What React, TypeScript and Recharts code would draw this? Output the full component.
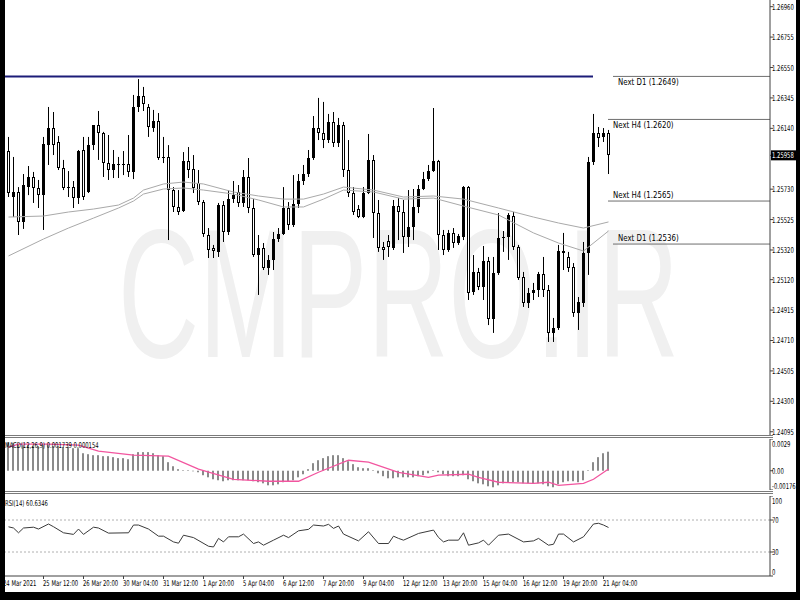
import { Bar, ComposedChart, Line, ReferenceLine, XAxis, YAxis } from "recharts"

const FONT = "DejaVu Sans, Verdana, sans-serif"

// H4 candles, 24 Mar 08:00 .. 21 Apr 08:00
const opens = [
  1.25987, 1.25677, 1.25711, 1.25509, 1.25744, 1.25812, 1.25738, 1.2569, 1.26027, 1.26142,
  1.26048, 1.25872, 1.25738, 1.25744, 1.2567, 1.25994, 1.25711, 1.26027, 1.26162, 1.26109,
  1.25906, 1.25859, 1.25893, 1.25893, 1.259, 1.25846, 1.26284, 1.26358, 1.26284, 1.26142,
  1.26189, 1.2594, 1.25947, 1.25724, 1.2561, 1.25583, 1.2592, 1.25866, 1.25771, 1.25643,
  1.25421, 1.25334, 1.25307, 1.25623, 1.25441, 1.25663, 1.25711, 1.25637, 1.25812, 1.25603,
  1.25286, 1.25334, 1.25199, 1.25253, 1.25394, 1.25428, 1.25603, 1.25489, 1.2563, 1.25785,
  1.25832, 1.2594, 1.26142, 1.26109, 1.26061, 1.26183, 1.26041, 1.26162, 1.25859, 1.25704,
  1.25596, 1.25542, 1.25704, 1.25927, 1.25569, 1.2534, 1.25381, 1.25334, 1.25616, 1.25576,
  1.25408, 1.25475, 1.2561, 1.25731, 1.25798, 1.25852, 1.2592, 1.25421, 1.2532, 1.25435,
  1.25367, 1.25408, 1.25744, 1.25037, 1.25172, 1.25071, 1.25246, 1.24855, 1.25165, 1.25401,
  1.25408, 1.25549, 1.2534, 1.25138, 1.24962, 1.2503, 1.2505, 1.25158, 1.2505, 1.24761,
  1.24794, 1.25313, 1.25273, 1.25205, 1.24895, 1.24962, 1.253, 1.25913, 1.26109, 1.26082,
  1.26109,
]
const highs = [
  1.26082, 1.25947, 1.25744, 1.25832, 1.25886, 1.25846, 1.25792, 1.26082, 1.26284, 1.2625,
  1.26088, 1.25927, 1.25852, 1.25785, 1.25994, 1.26082, 1.26082, 1.26162, 1.26257, 1.26116,
  1.26095, 1.25994, 1.25947, 1.25987, 1.26095, 1.26365, 1.26472, 1.26419, 1.26304, 1.26264,
  1.26243, 1.26082, 1.26027, 1.25744, 1.25724, 1.2598, 1.26014, 1.2596, 1.25859, 1.25657,
  1.25468, 1.25354, 1.25637, 1.2565, 1.25724, 1.25785, 1.25758, 1.25859, 1.2594, 1.25663,
  1.25421, 1.25367, 1.25286, 1.25441, 1.25468, 1.25744, 1.25643, 1.25825, 1.25832, 1.25893,
  1.25994, 1.26223, 1.26345, 1.26318, 1.26237, 1.2625, 1.2621, 1.26183, 1.26061, 1.25744,
  1.25623, 1.25744, 1.26102, 1.2596, 1.25657, 1.25374, 1.25421, 1.25657, 1.2567, 1.25657,
  1.25724, 1.25731, 1.25758, 1.25846, 1.25893, 1.26277, 1.25927, 1.25455, 1.25455, 1.25468,
  1.25428, 1.25751, 1.25751, 1.25286, 1.25199, 1.25347, 1.25273, 1.25273, 1.25569, 1.25448,
  1.25569, 1.25576, 1.25354, 1.25172, 1.25064, 1.25098, 1.25172, 1.25273, 1.25084, 1.24862,
  1.25354, 1.25435, 1.25307, 1.25232, 1.25003, 1.25374, 1.25947, 1.26237, 1.26149, 1.26142,
  1.26129,
]
const lows = [
  1.25677, 1.25542, 1.25421, 1.25462, 1.2569, 1.25637, 1.25603, 1.25455, 1.25893, 1.2596,
  1.25859, 1.25724, 1.25677, 1.25603, 1.2563, 1.25657, 1.25704, 1.25994, 1.25927, 1.25812,
  1.25792, 1.25805, 1.25805, 1.25825, 1.25812, 1.25798, 1.2625, 1.26257, 1.26082, 1.26116,
  1.25927, 1.25906, 1.25387, 1.25576, 1.25556, 1.25576, 1.25805, 1.25704, 1.25623, 1.25408,
  1.25266, 1.25266, 1.25273, 1.25374, 1.25421, 1.25637, 1.2561, 1.2561, 1.25569, 1.25273,
  1.25017, 1.25185, 1.25152, 1.25185, 1.25374, 1.25421, 1.25455, 1.25475, 1.25603, 1.25758,
  1.25812, 1.25927, 1.26061, 1.26007, 1.26041, 1.26014, 1.26014, 1.25812, 1.25677, 1.25556,
  1.25535, 1.25535, 1.25697, 1.25401, 1.25307, 1.25253, 1.25273, 1.2532, 1.25387, 1.253,
  1.2534, 1.25387, 1.25569, 1.25724, 1.25785, 1.25846, 1.2532, 1.25286, 1.25307, 1.25334,
  1.25354, 1.25387, 1.24983, 1.25017, 1.2505, 1.24983, 1.24814, 1.24761, 1.25152, 1.25307,
  1.25253, 1.2532, 1.25118, 1.24936, 1.24929, 1.24983, 1.25003, 1.25003, 1.247, 1.247,
  1.24781, 1.25185, 1.25172, 1.24869, 1.24781, 1.24936, 1.25152, 1.25893, 1.26014, 1.26048,
  1.25832,
]
const closes = [
  1.25704, 1.25711, 1.25509, 1.25758, 1.25812, 1.25738, 1.2569, 1.26034, 1.26142, 1.26027,
  1.25872, 1.25738, 1.25744, 1.2567, 1.25987, 1.25677, 1.26027, 1.26162, 1.26109, 1.25906,
  1.25859, 1.259, 1.259, 1.259, 1.25846, 1.26284, 1.26358, 1.26304, 1.26149, 1.26189,
  1.2594, 1.25947, 1.25724, 1.2561, 1.25576, 1.2592, 1.25859, 1.25738, 1.25643, 1.25428,
  1.2532, 1.25313, 1.25623, 1.25441, 1.25663, 1.2569, 1.25637, 1.25812, 1.25603, 1.25286,
  1.25334, 1.25199, 1.25253, 1.25394, 1.25428, 1.25603, 1.25489, 1.2563, 1.25785, 1.25832,
  1.2594, 1.26142, 1.26109, 1.26061, 1.26183, 1.26041, 1.26162, 1.25859, 1.25704, 1.25576,
  1.25542, 1.25704, 1.25927, 1.25569, 1.25334, 1.2532, 1.2534, 1.25616, 1.25576, 1.25408,
  1.25475, 1.2561, 1.25731, 1.25798, 1.25852, 1.2592, 1.25421, 1.2532, 1.25435, 1.25367,
  1.25414, 1.25744, 1.2503, 1.25172, 1.25071, 1.25246, 1.24855, 1.25165, 1.25401, 1.25408,
  1.25556, 1.2534, 1.25131, 1.24962, 1.2503, 1.2505, 1.25158, 1.2505, 1.24761, 1.24794,
  1.25313, 1.253, 1.25199, 1.24895, 1.24969, 1.253, 1.25913, 1.26109, 1.26075, 1.26109,
  1.25958,
]

// moving averages, sampled as [bar, price]
const maUpper: [number, number][] = [
  [0, 1.25542], [7, 1.25549], [12, 1.25576], [17, 1.25596], [22, 1.25623], [25, 1.2567],
  [27, 1.25724], [31, 1.25765], [35, 1.25778], [39, 1.25765], [45, 1.25711], [50, 1.25684],
  [55, 1.25663], [59, 1.25663], [63, 1.25697], [67, 1.25744], [73, 1.25724], [79, 1.25677],
  [85, 1.25684], [91, 1.25663], [98, 1.25603], [105, 1.25542], [110, 1.25502], [115, 1.25468],
  [120, 1.25509],
]
const maLower: [number, number][] = [
  [0, 1.2528], [7, 1.25394], [12, 1.25468], [17, 1.25535], [22, 1.25603], [25, 1.2565],
  [27, 1.25697], [31, 1.25731], [35, 1.25738], [39, 1.25724], [45, 1.25697], [50, 1.25657],
  [55, 1.2561], [59, 1.2561], [63, 1.25663], [67, 1.25724], [73, 1.25711], [79, 1.25663],
  [85, 1.2567], [91, 1.25616], [98, 1.25556], [105, 1.25435], [110, 1.25367], [115, 1.25313],
  [120, 1.25448],
]

// MACD(12,26,9) main (histogram) per bar, signal sampled
const macdMain = [
  0.00261, 0.00257, 0.00243, 0.00234, 0.00234, 0.00225, 0.00225, 0.00234, 0.00234, 0.00225,
  0.00225, 0.00216, 0.00216, 0.00206, 0.00206, 0.0016, 0.00151, 0.00142, 0.00142, 0.00133,
  0.00133, 0.00124, 0.00115, 0.00115, 0.00105, 0.00151, 0.0017, 0.0017, 0.0017, 0.0016,
  0.00142, 0.00133, 0.00078, 0.00041, 0.00014, 0.00005, 0.00005, -0.00005, -0.00014, -0.00041,
  -0.0006, -0.00078, -0.00087, -0.00096, -0.00087, -0.00087, -0.00087, -0.00087, -0.00087, -0.00096,
  -0.00105, -0.00115, -0.00133, -0.00133, -0.00124, -0.00105, -0.00096, -0.00087, -0.0006, -0.00032,
  0.00014, 0.00069, 0.00096, 0.00115, 0.00133, 0.00142, 0.00142, 0.00115, 0.00087, 0.0006,
  0.00032, 0.00023, 0.00023, 0.00005, -0.00023, -0.0005, -0.00069, -0.00069, -0.0006, -0.0006,
  -0.0006, -0.0006, -0.0005, -0.00041, -0.00023, 0.00005, -0.00014, -0.00032, -0.0005, -0.0005,
  -0.0005, -0.00041, -0.00078, -0.00096, -0.00115, -0.00124, -0.00142, -0.00151, -0.00133, -0.00115,
  -0.00105, -0.00105, -0.00105, -0.00115, -0.00115, -0.00115, -0.00115, -0.00124, -0.00142, -0.00151,
  -0.00124, -0.00105, -0.00096, -0.00096, -0.00105, -0.00087, 0.00005, 0.00078, 0.00124, 0.0016,
  0.00174,
]
const macdSignal: [number, number][] = [
  [0, 0.00216], [2, 0.00243], [8, 0.00243], [14, 0.00234], [18, 0.00179], [25, 0.00142],
  [32, 0.00133], [38, 0.00014], [45, -0.00078], [52, -0.00096], [58, -0.00096], [62, -0.00014],
  [68, 0.00096], [72, 0.00078], [78, -0.00014], [84, -0.0006], [86, -0.00041], [92, -0.00032],
  [94, -0.0006], [98, -0.00105], [105, -0.00115], [108, -0.00105], [110, -0.00133], [115, -0.00115],
  [117, -0.00078], [120, 0.000154],
]

// RSI(14) sampled as [bar, value]
const rsiPts: [number, number][] = [
  [0, 61.5], [1, 60], [2, 54], [3, 60], [5, 61], [6, 58.7], [8, 65], [9, 61.6], [11, 54],
  [13, 52], [14, 58.7], [15, 52], [17, 61], [18, 60], [20, 53.6], [24, 54], [25, 63.7],
  [26, 63.7], [28, 58.7], [30, 49.8], [31, 49.8], [33, 42.6], [34, 41], [35, 51], [37, 48],
  [40, 37.2], [41, 36.3], [42, 47], [43, 42.6], [44, 49], [46, 49], [47, 52.4], [49, 40.6],
  [50, 42.6], [51, 38.5], [53, 44.8], [55, 51], [56, 48], [58, 56.5], [60, 58.3], [61, 63.7],
  [63, 62.5], [64, 64.6], [65, 59.5], [66, 62.5], [67, 52.4], [70, 43.9], [72, 55.3],
  [74, 40.6], [76, 40.6], [77, 49.8], [78, 47], [79, 44.8], [82, 53.2], [85, 57.4], [86, 48.2],
  [87, 42.6], [88, 44.8], [90, 44.8], [91, 54], [92, 38.5], [94, 41.4], [95, 44.8], [96, 38.5],
  [98, 51], [100, 52.4], [103, 42.6], [105, 43.9], [106, 47], [108, 38.5], [109, 39.7],
  [110, 52.4], [111, 52.4], [113, 42.6], [115, 49], [117, 65], [118, 65.9], [119, 63.7],
  [120, 60.6346],
]

const priceTicks = [
  1.2696, 1.26755, 1.2655, 1.26345, 1.2614, 1.2573, 1.25525, 1.2532, 1.2512, 1.24915, 1.2471,
  1.24505, 1.243, 1.24095,
]
const lastPrice = 1.25958
const macdTicks = [0.0029, 0, -0.00176]
const macdTickLabels = ["0.0029", "0.00", "-0.00176"]
const rsiTicks = [100, 70, 30, 0]

const timeTicks = [-1, 7, 15, 23, 31, 39, 47, 55, 63, 71, 79, 87, 95, 103, 111, 119]
const timeLabels = [
  "24 Mar 2021", "25 Mar 12:00", "26 Mar 20:00", "30 Mar 04:00", "31 Mar 12:00", "1 Apr 20:00",
  "5 Apr 04:00", "6 Apr 12:00", "7 Apr 20:00", "9 Apr 04:00", "12 Apr 12:00", "13 Apr 20:00",
  "15 Apr 04:00", "16 Apr 12:00", "19 Apr 20:00", "21 Apr 04:00",
]

const levelPrices = [1.2649, 1.262, 1.2565, 1.2536]
const levelNames = ["Next D1 (1.2649)", "Next H4 (1.2620)", "Next H4 (1.2565)", "Next D1 (1.2536)"]
const levelStart = [120.9, 119.9, 119.9, 120.9]
const levelTextBelow = [true, true, false, false]
const navyLevel = 1.2649
const navyEnd = 116.9

const X_DOMAIN: [number, number] = [-0.7, 152.3]
const PRICE_DOMAIN: [number, number] = [1.24073, 1.27005]
const MACD_DOMAIN: [number, number] = [-0.00176, 0.0029]

type Row = {
  i: number
  o: number
  h: number
  l: number
  c: number
  range: [number, number]
  up: number | null
  lo: number | null
  hist: number
  sig: number | null
  rsi: number | null
}

const rows: Row[] = opens.map((o, i) => ({
  i,
  o,
  h: highs[i],
  l: lows[i],
  c: closes[i],
  range: [lows[i], highs[i]],
  up: null,
  lo: null,
  hist: macdMain[i],
  sig: null,
  rsi: null,
}))
maUpper.forEach(([i, v]) => (rows[i].up = v))
maLower.forEach(([i, v]) => (rows[i].lo = v))
macdSignal.forEach(([i, v]) => (rows[i].sig = v))
rsiPts.forEach(([i, v]) => (rows[i].rsi = v))

// MT4 screenshot text is horizontally squeezed; scale instead of textLength
function SqText(props: any) {
  const { x, y, sx = 0.66, size = 8, fill = "#000", family = FONT, children } = props
  return (
    <text
      transform={`translate(${x},${y}) scale(${sx},1)`}
      x={0}
      y={0}
      fontSize={size}
      fontFamily={family}
      fill={fill}
      textAnchor="start"
    >
      {children}
    </text>
  )
}

function Candle(props: any) {
  const { x, y, width, height, payload } = props
  if (!payload || x == null || y == null) return null
  const { o, h, l, c } = payload
  const top = Math.min(y, y + height)
  const span = Math.abs(height)
  const py = (v: number) => top + ((h - v) / (h - l || 1)) * span
  const cx = Math.floor(x + width / 2 + 0.01) + 0.5
  const bTop = Math.round(py(Math.max(o, c)))
  const bBot = Math.round(py(Math.min(o, c)))
  const bull = c > o
  return (
    <g>
      <line x1={cx} x2={cx} y1={py(h)} y2={py(l)} stroke="#000" strokeWidth={1} />
      {bull ? (
        <rect x={cx - 1.5} y={bTop} width={3} height={Math.max(1, bBot - bTop)} fill="#000" />
      ) : (
        <rect
          x={cx - 1}
          y={bTop + 0.5}
          width={2}
          height={Math.max(0.5, bBot - bTop - 1)}
          fill="#fff"
          stroke="#000"
          strokeWidth={1}
        />
      )}
    </g>
  )
}

function HistBar(props: any) {
  const { x, y, width, height } = props
  if (x == null || y == null) return null
  const cx = Math.floor(x + width / 2 + 0.01) + 0.5
  const top = Math.min(y, y + height)
  return <rect x={cx - 1.5} y={top} width={2} height={Math.abs(height)} fill="#8a8a8a" />
}

function PriceTick(props: any) {
  const { x, y, payload } = props
  const v = payload.value
  const current = v === lastPrice
  return (
    <g>
      {current && <rect x={x - 2} y={y - 5} width={25} height={10} fill="#000" />}
      <SqText x={x - 1} y={y + 3} fill={current ? "#fff" : "#000"}>
        {v.toFixed(5)}
      </SqText>
    </g>
  )
}

function PaneTick(props: any) {
  const { x, y, payload, ticks, labels } = props
  const v = payload.value
  const k = ticks.indexOf(v)
  const text = labels ? labels[k] : String(v)
  const shift = k === 0 ? 5 : k === ticks.length - 1 ? -4 : 0
  return (
    <SqText x={x - 1} y={y + shift + 3}>
      {text}
    </SqText>
  )
}

function TimeTick(props: any) {
  const { x, y, payload } = props
  const k = timeTicks.indexOf(payload.value)
  return (
    <SqText x={x - 0.5} y={y + 5}>
      {timeLabels[k] ?? ""}
    </SqText>
  )
}

function LevelLabel(props: any) {
  const vb = props.viewBox || {}
  const x0 = vb.x ?? vb.x1 ?? 0
  const y0 = vb.y ?? vb.y1 ?? 0
  return (
    <SqText x={x0 + 5} y={y0 + (props.below ? 9 : -3)} size={9.5} sx={0.74}>
      {props.text}
    </SqText>
  )
}

const abs = (left: number, top: number, width: number, height: number, extra: any = {}) => ({
  position: "absolute" as const,
  left,
  top,
  width,
  height,
  ...extra,
})

export default function App() {
  return (
    <div style={abs(0, 0, 800, 600, { background: "#fff", overflow: "hidden" })}>
      {/* watermark */}
      <svg style={abs(0, 0, 800, 600)} width={800} height={600}>
        <SqText x={118} y={357} size={184} sx={0.61} fill="#f0f0f0" family="Liberation Sans, Arial, sans-serif">
          CMPRO.IR
        </SqText>
      </svg>

      {/* price pane */}
      <div style={abs(0, 0, 800, 440)}>
        <ComposedChart width={800} height={440} data={rows} margin={{ top: 0, right: 0, left: 5, bottom: 5 }}>
          <XAxis dataKey="i" type="number" domain={X_DOMAIN} allowDataOverflow hide />
          <YAxis
            orientation="right"
            width={30}
            domain={PRICE_DOMAIN}
            allowDataOverflow
            ticks={[...priceTicks, lastPrice]}
            interval={0}
            tick={<PriceTick />}
            tickSize={3}
            tickMargin={0}
            axisLine={{ stroke: "#404040" }}
            tickLine={{ stroke: "#404040" }}
          />
          <ReferenceLine
            segment={[
              { x: X_DOMAIN[0], y: navyLevel },
              { x: navyEnd, y: navyLevel },
            ]}
            stroke="#1c1c78"
            strokeWidth={2}
          />
          {levelPrices.map((p, k) => (
            <ReferenceLine
              key={`lv-${k}`}
              segment={[
                { x: levelStart[k], y: p },
                { x: X_DOMAIN[1], y: p },
              ]}
              stroke="#6e6e6e"
              strokeWidth={1}
              label={<LevelLabel text={levelNames[k]} below={levelTextBelow[k]} />}
            />
          ))}
          <Line
            dataKey="up"
            stroke="#a9a9a9"
            strokeWidth={1}
            dot={false}
            connectNulls
            isAnimationActive={false}
          />
          <Line
            dataKey="lo"
            stroke="#a9a9a9"
            strokeWidth={1}
            dot={false}
            connectNulls
            isAnimationActive={false}
          />
          <Bar dataKey="range" barSize={3} shape={(p: any) => <Candle {...p} />} isAnimationActive={false} />
        </ComposedChart>
      </div>

      {/* MACD pane */}
      <div style={abs(0, 439, 800, 51)}>
        <ComposedChart width={800} height={51} data={rows} margin={{ top: 0, right: 0, left: 5, bottom: 0 }}>
          <XAxis dataKey="i" type="number" domain={X_DOMAIN} allowDataOverflow hide />
          <YAxis
            orientation="right"
            width={30}
            domain={MACD_DOMAIN}
            allowDataOverflow
            ticks={macdTicks}
            interval={0}
            tick={<PaneTick ticks={macdTicks} labels={macdTickLabels} />}
            tickSize={3}
            tickMargin={0}
            axisLine={{ stroke: "#404040" }}
            tickLine={{ stroke: "#404040" }}
          />
          <Bar dataKey="hist" barSize={2} shape={(p: any) => <HistBar {...p} />} isAnimationActive={false} />
          <Line
            dataKey="sig"
            stroke="#f2559f"
            strokeWidth={1.3}
            dot={false}
            connectNulls
            isAnimationActive={false}
          />
        </ComposedChart>
      </div>

      {/* RSI pane + time axis */}
      <div style={abs(0, 496, 800, 96)}>
        <ComposedChart width={800} height={96} data={rows} margin={{ top: 0, right: 0, left: 5, bottom: 0 }}>
          <XAxis
            dataKey="i"
            type="number"
            domain={X_DOMAIN}
            allowDataOverflow
            ticks={timeTicks}
            interval={0}
            height={16}
            tick={<TimeTick />}
            tickSize={3}
            tickMargin={2}
            axisLine={{ stroke: "#404040" }}
            tickLine={{ stroke: "#404040" }}
          />
          <YAxis
            orientation="right"
            width={30}
            domain={[0, 100]}
            ticks={rsiTicks}
            interval={0}
            tick={<PaneTick ticks={rsiTicks} />}
            tickSize={3}
            tickMargin={0}
            axisLine={{ stroke: "#404040" }}
            tickLine={{ stroke: "#404040" }}
          />
          <ReferenceLine y={70} stroke="#b0b0b0" strokeDasharray="2 2" />
          <ReferenceLine y={30} stroke="#b0b0b0" strokeDasharray="2 2" />
          <Line
            dataKey="rsi"
            stroke="#3a3a3a"
            strokeWidth={1}
            dot={false}
            connectNulls
            isAnimationActive={false}
          />
        </ComposedChart>
      </div>

      {/* indicator captions */}
      <svg style={abs(0, 0, 800, 600, { pointerEvents: "none" })} width={800} height={600}>
        <SqText x={5} y={448}>MACD(12,26,9) 0.001739 0.000154</SqText>
        <SqText x={5} y={506}>RSI(14) 60.6346</SqText>
      </svg>

      {/* pane separators */}
      <div style={abs(5, 435, 768, 1, { background: "#7a7a7a" })} />
      <div style={abs(5, 437, 768, 1, { background: "#7a7a7a" })} />
      <div style={abs(5, 491, 768, 1, { background: "#7a7a7a" })} />
      <div style={abs(5, 493, 768, 1, { background: "#7a7a7a" })} />

      {/* window frame */}
      <div style={abs(0, 0, 5, 600, { background: "#000" })} />
      <div style={abs(796, 0, 4, 600, { background: "#000" })} />
      <div style={abs(0, 592, 800, 8, { background: "#000" })} />
    </div>
  )
}
